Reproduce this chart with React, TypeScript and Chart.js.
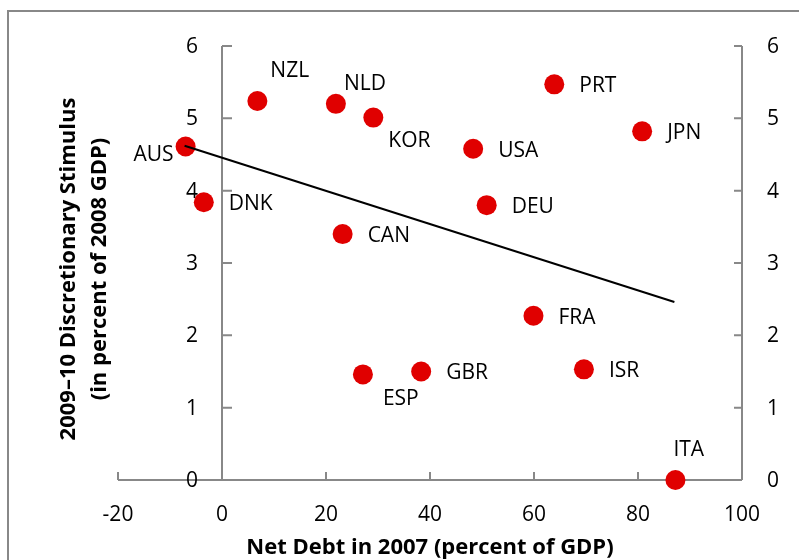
import React, { useEffect, useRef } from "react";
import { Chart, registerables } from "chart.js";

Chart.register(...registerables);

// ---- data ----
const countries = ["AUS", "NZL", "NLD", "KOR", "DNK", "CAN", "PRT", "JPN", "USA", "DEU", "ESP", "GBR", "FRA", "ISR", "ITA"];
const netDebt2007 = [-7.0, 6.8, 21.9, 29.1, -3.5, 23.2, 63.9, 80.8, 48.3, 50.9, 27.1, 38.3, 59.9, 69.6, 87.2];
const stimulus = [4.61, 5.24, 5.2, 5.01, 3.84, 3.4, 5.47, 4.82, 4.58, 3.8, 1.46, 1.5, 2.27, 1.53, 0.0];
const trendX = [-7.2, 87.0];
const trendY = [4.62, 2.46];
const xTicks = [-20, 0, 20, 40, 60, 80, 100];
const yTicks = [0, 1, 2, 3, 4, 5, 6];
const xTitle = "Net Debt in 2007 (percent of GDP)";
const yTitleLines = ["2009–10 Discretionary Stimulus", "(in percent of 2008 GDP)"];

// ---- label placement (style) ----
const labelOffsets: Record<string, [number, number, CanvasTextAlign]> = {
  AUS: [-12, 8, "right"],
  NZL: [13, -30, "left"],
  NLD: [8, -20, "left"],
  KOR: [15, 23, "left"],
  ESP: [20, 25, "left"],
  ITA: [-2, -30, "left"],
};
const defaultOffset: [number, number, CanvasTextAlign] = [25, 2, "left"];

const FONT = "'Open Sans', 'DejaVu Sans', sans-serif";
const AXIS_COLOR = "#888888";

const decorPlugin = {
  id: "decor",
  beforeDatasetsDraw(chart: any) {
    const ctx = chart.ctx as CanvasRenderingContext2D;
    const xs = chart.scales.x;
    const ys = chart.scales.y;
    ctx.save();
    // outer frame
    ctx.strokeStyle = AXIS_COLOR;
    ctx.lineWidth = 2;
    ctx.beginPath();
    ctx.moveTo(8, 560);
    ctx.lineTo(8, 11);
    ctx.lineTo(799, 11);
    ctx.stroke();

    const x0 = xs.getPixelForValue(0);
    const xL = xs.getPixelForValue(xTicks[0]);
    const xR = xs.getPixelForValue(xTicks[xTicks.length - 1]);
    const y0 = ys.getPixelForValue(0);
    const yT = ys.getPixelForValue(yTicks[yTicks.length - 1]);

    // axis lines
    ctx.beginPath();
    ctx.moveTo(xL, y0);
    ctx.lineTo(xR, y0);
    ctx.moveTo(x0, y0);
    ctx.lineTo(x0, yT);
    ctx.moveTo(xR, y0);
    ctx.lineTo(xR, yT);
    ctx.stroke();

    // tick marks
    ctx.beginPath();
    xTicks.forEach((v) => {
      const px = xs.getPixelForValue(v);
      ctx.moveTo(px, y0);
      ctx.lineTo(px, y0 - 8);
    });
    yTicks.forEach((v) => {
      const py = ys.getPixelForValue(v);
      ctx.moveTo(x0, py);
      ctx.lineTo(x0 + 10, py);
      ctx.moveTo(xR, py);
      ctx.lineTo(xR - 8, py);
    });
    ctx.stroke();

    // tick labels
    ctx.fillStyle = "#000";
    ctx.font = `21px ${FONT}`;
    ctx.textBaseline = "middle";
    ctx.textAlign = "center";
    xTicks.forEach((v) => {
      ctx.fillText(String(v), xs.getPixelForValue(v), y0 + 35);
    });
    yTicks.forEach((v) => {
      const py = ys.getPixelForValue(v);
      ctx.textAlign = "right";
      ctx.fillText(String(v), x0 - 24, py + 1);
      ctx.textAlign = "left";
      ctx.fillText(String(v), xR + 25, py + 1);
    });

    // axis titles
    ctx.font = `bold 22px ${FONT}`;
    ctx.textAlign = "center";
    ctx.textBaseline = "alphabetic";
    ctx.fillText(xTitle, (xL + xR) / 2, 554);
    ctx.translate(75, 269);
    ctx.rotate(-Math.PI / 2);
    ctx.fillText(yTitleLines[0], 0, 0);
    ctx.fillText(yTitleLines[1], 0, 31);
    ctx.restore();
  },
  afterDatasetsDraw(chart: any) {
    const ctx = chart.ctx as CanvasRenderingContext2D;
    const meta = chart.getDatasetMeta(1);
    ctx.save();
    ctx.fillStyle = "#000";
    ctx.font = `21px ${FONT}`;
    ctx.textBaseline = "middle";
    meta.data.forEach((pt: any, i: number) => {
      const name = countries[i];
      const [dx, dy, align] = labelOffsets[name] || defaultOffset;
      ctx.textAlign = align;
      ctx.fillText(name, pt.x + dx, pt.y + dy);
    });
    ctx.restore();
  },
};

export default function App() {
  const ref = useRef<HTMLCanvasElement | null>(null);
  useEffect(() => {
    if (!ref.current) return;
    const chart = new Chart(ref.current, {
      type: "scatter",
      data: {
        datasets: [
          {
            type: "line",
            label: "Trend",
            data: trendX.map((x, i) => ({ x, y: trendY[i] })),
            borderColor: "#000000",
            borderWidth: 2,
            pointRadius: 0,
            fill: false,
            order: 0,
            clip: false,
          } as any,
          {
            label: "Countries",
            data: netDebt2007.map((x, i) => ({ x, y: stimulus[i] })),
            backgroundColor: "#e00000",
            borderColor: "#e00000",
            borderWidth: 0,
            pointRadius: 10,
            pointHoverRadius: 10,
            order: 1,
            clip: false,
          } as any,
        ],
      },
      options: {
        animation: false,
        responsive: false,
        maintainAspectRatio: false,
        layout: { padding: { left: 118, right: 57, top: 46, bottom: 80 } },
        plugins: { legend: { display: false }, tooltip: { enabled: false } },
        scales: {
          x: { type: "linear", min: -20, max: 100, display: false },
          y: { type: "linear", min: 0, max: 6, display: false },
        },
      },
      plugins: [decorPlugin],
    });
    return () => chart.destroy();
  }, []);
  return (
    <div style={{ position: "fixed", left: 0, top: 0, width: 799, height: 560, background: "#fff" }}>
      <canvas ref={ref} width={799} height={560} style={{ width: 799, height: 560 }} />
    </div>
  );
}
